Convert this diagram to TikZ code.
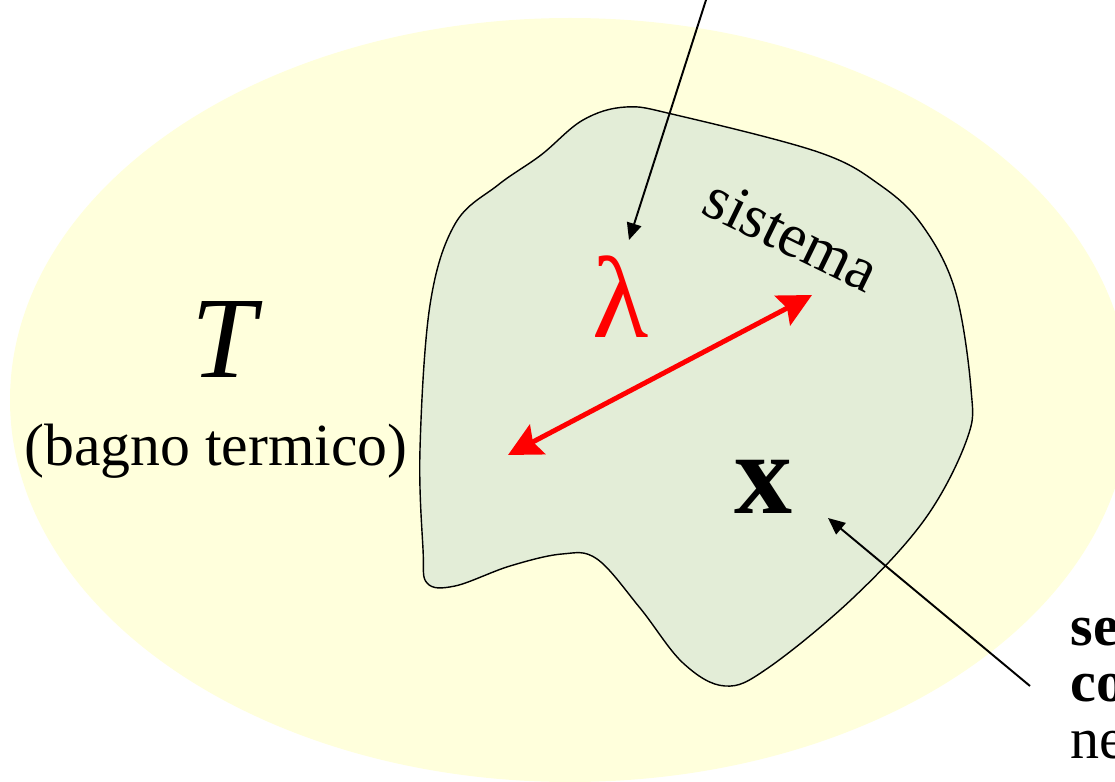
\documentclass[tikz,border=0pt]{standalone}
\usepackage{fontspec}
\setmainfont{Liberation Serif}
\usetikzlibrary{arrows.meta}
\definecolor{bathyellow}{HTML}{FFFFDC}
\definecolor{sysgreen}{HTML}{E3EDD7}
\definecolor{lamred}{HTML}{FF0000}
\tikzset{
  pointer/.style={
    -{Triangle[length=4.8pt,width=4.2pt]}, line width=0.55pt, color=black
  },
  swaparrow/.style={
    {Stealth[length=9.5pt,width=9.5pt,inset=1.5pt]}-{Stealth[length=9.5pt,width=9.5pt,inset=1.5pt]},
    line width=1.4pt, color=#1
  },
  swaparrow/.default=lamred,
  bigsym/.style={
    font=\fontsize{33}{36}\selectfont, inner sep=0pt
  },
  labeltext/.style={
    font=\fontsize{17}{20}\selectfont, inner sep=0pt
  },
  sidetext/.style={
    font=\fontsize{16.5}{18}\selectfont, inner sep=0pt, anchor=base west
  },
}
\begin{document}
\begin{tikzpicture}[x=0.01cm, y=-0.01cm]
  \useasboundingbox (0,0) rectangle (1115,782);

  % ── Bagno termico ────────────
  \fill[bathyellow] (570,400) ellipse [x radius=560, y radius=382];
  \node[bigsym, font=\fontsize{33}{36}\selectfont\itshape] (temp) at (224,340) {T};
  \node[labeltext, anchor=base] (bath) at (216,465) {(bagno termico)};

  % ── Sistema ──────────────────
  \draw[line width=0.4pt, fill=sysgreen] plot[smooth cycle, tension=0.6] coordinates {
    (427,583) (455,586) (510,566) (562,554) (597,559) (640,608) (683,663)
    (725,686) (768,668) (853,598) (925,519) (967,439) (971,389) (955,290)
    (922,225) (880,185) (818,152) (676,115) (626,107) (583,120) (541,155)
    (498,185) (455,224) (430,305) (420,449) (423,549)};
  \node[labeltext, font=\fontsize{17.6}{20}\selectfont, rotate=-26] (sys) at (792,235) {sistema};
  \node[bigsym, text=lamred] (lam) at (621,297) {λ};
  \node[bigsym, font=\fontsize{33}{36}\selectfont\bfseries] (state) at (764,487) {x};

  % ── Scritta a destra ─────────
  \node[sidetext, font=\fontsize{16.5}{18}\selectfont\bfseries] (sel1) at (1070,645) {se};
  \node[sidetext, font=\fontsize{16.5}{18}\selectfont\bfseries] (sel2) at (1070,701) {co};
  \node[sidetext] (sel3) at (1070,758) {ne};

  % ── Frecce ───────────────────
  \coordinate (lamsrc) at (706,0);
  \coordinate (lamtip) at (629,240);
  \coordinate (swapa) at (508,455);
  \coordinate (swapb) at (812,295);
  \coordinate (selsrc) at (1030,686);
  \coordinate (statetip) at (828,518);
  \draw[pointer] (lamsrc) -- (lamtip);
  \draw[swaparrow] (swapa) -- (swapb);
  \draw[pointer] (selsrc) -- (statetip);
\end{tikzpicture}
\end{document}
